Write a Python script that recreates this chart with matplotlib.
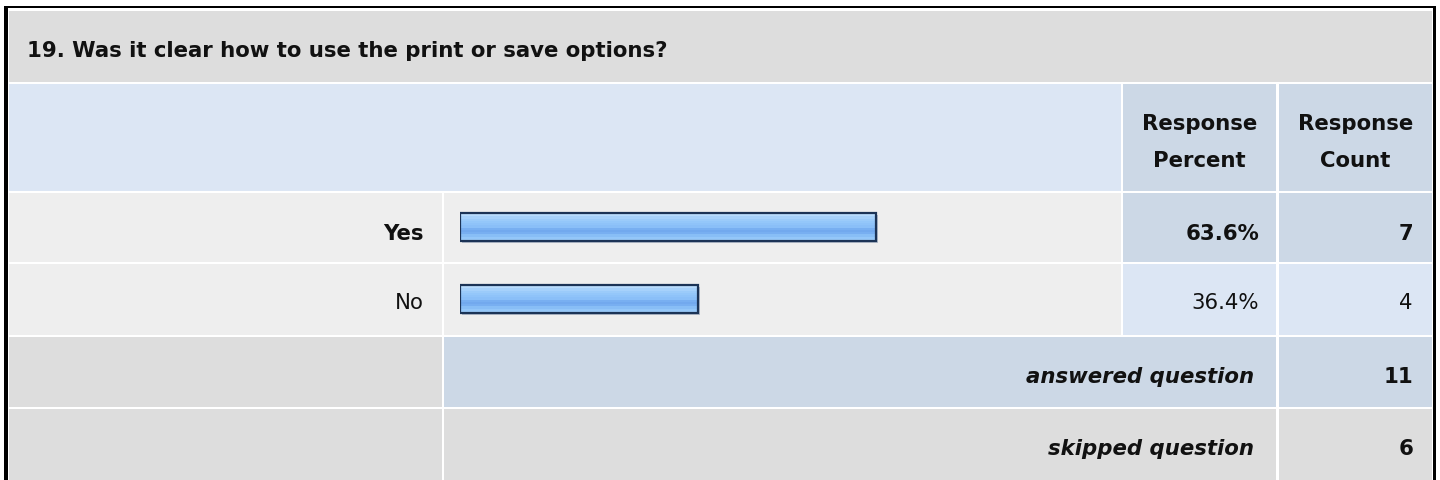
import numpy as np
import matplotlib.pyplot as plt
from matplotlib.patches import Rectangle
from matplotlib.colors import to_rgb
from matplotlib.transforms import offset_copy

question = "19. Was it clear how to use the print or save options?"
answers = ["Yes", "No"]
percents = [63.6, 36.4]
counts = [7, 4]
answered = 11
skipped = 6

plt.rcParams["font.family"] = ["DejaVu Sans"]

W, H = 1440, 481
fig = plt.figure(figsize=(W / 100, H / 100), dpi=100)
ax = fig.add_axes([0, 0, 1, 1])
ax.set_xlim(0, W)
ax.set_ylim(H, 0)
ax.axis("off")

GRAY = "#dddddd"
LIGHT = "#eeeeee"
BLUE_L = "#dce6f4"
BLUE_D = "#ccd8e6"
TXT = "#111111"
FS = 15.3


def cell(x0, x1, y0, y1, color):
    ax.add_patch(Rectangle((x0, y0), x1 - x0, y1 - y0, facecolor=color, edgecolor="none"))


# column and row edges (pixels)
c_lab = (9, 442)
c_bar = (444, 1121)
c_pct = (1123, 1276)
c_cnt = (1279, 1432)
r_title = (12, 83)
r_head = (85, 192)
r_ans = [(194, 263), (265, 336)]
ans_base = [240, 309]
r_answered = (338, 408)
r_skipped = (410, 481)

# title row
cell(c_lab[0], c_cnt[1], *r_title, GRAY)
ax.text(27, 57, question, fontsize=FS, fontweight="bold", color=TXT, va="baseline")

# header row
cell(c_lab[0], c_bar[1], *r_head, BLUE_L)
cell(*c_pct, *r_head, BLUE_D)
cell(*c_cnt, *r_head, BLUE_D)
for cx, word in [((c_pct[0] + c_pct[1]) / 2, "Percent"), ((c_cnt[0] + c_cnt[1]) / 2, "Count")]:
    ax.text(cx, 130, "Response", fontsize=FS, fontweight="bold", color=TXT, ha="center", va="baseline")
    ax.text(cx, 167, word, fontsize=FS, fontweight="bold", color=TXT, ha="center", va="baseline")

# answer rows
top_idx = int(np.argmax(counts))
for i, (lab, pct, cnt) in enumerate(zip(answers, percents, counts)):
    y0, y1 = r_ans[i]
    bold = "bold" if i == top_idx else "normal"
    side = BLUE_D if i == top_idx else BLUE_L
    cell(*c_lab, y0, y1, LIGHT)
    cell(*c_bar, y0, y1, LIGHT)
    cell(*c_pct, y0, y1, side)
    cell(*c_cnt, y0, y1, side)
    base = ans_base[i]
    ax.text(424, base, lab, fontsize=FS, fontweight=bold, color=TXT, ha="right", va="baseline")
    ax.text(1259, base, f"{pct:.1f}%", fontsize=FS, fontweight=bold, color=TXT, ha="right", va="baseline")
    ax.text(1413, base, str(cnt), fontsize=FS, fontweight=bold, color=TXT, ha="right", va="baseline")

# answered / skipped rows
cell(*c_lab, *r_answered, GRAY)
cell(c_bar[0], c_pct[1], *r_answered, BLUE_D)
cell(*c_cnt, *r_answered, BLUE_D)
cell(*c_lab, *r_skipped, GRAY)
cell(c_bar[0], c_pct[1], *r_skipped, GRAY)
cell(*c_cnt, *r_skipped, GRAY)
for base, lab, val in [(383, "answered question", answered), (455, "skipped question", skipped)]:
    ax.text(1254, base, lab, fontsize=FS, fontweight="bold", fontstyle="italic", color=TXT,
            ha="right", va="baseline")
    ax.text(1413, base, str(val), fontsize=FS, fontweight="bold", color=TXT, ha="right", va="baseline")

# outer frame
ax.add_patch(Rectangle((4, 7), 4, H - 7, facecolor="black", edgecolor="none"))
ax.add_patch(Rectangle((4, 7), 1432, 2, facecolor="black", edgecolor="none"))
ax.add_patch(Rectangle((1433, 7), 3, H - 7, facecolor="black", edgecolor="none"))

# bars
bx0, bx1 = 460, 1114
by0, by1 = 192, 336
bax = fig.add_axes([bx0 / W, 1 - by1 / H, (bx1 - bx0) / W, (by1 - by0) / H])
bax.axis("off")

stripes = ["#cfe6fd", "#b8dbfc", "#a6d1fb", "#9bcbfa", "#94c7fa", "#8fc3f9", "#8abff8",
           "#78aff1", "#72a9ee", "#78aff1", "#88bef6", "#94c7f9", "#9ccbfa"]
grad = np.array([to_rgb(c) for c in stripes])[:, None, :]

ypos = range(len(answers))
shadow_tr = offset_copy(bax.transData, fig=fig, x=2, y=-2, units="dots")
bax.barh(ypos, percents, height=0.39, color="#9aa8ba", alpha=0.7, transform=shadow_tr, zorder=1)
bars = bax.barh(ypos, percents, height=0.39, color="none",
                edgecolor="#1b3356", linewidth=1.6, zorder=3)
for r in bars:
    x0, y0, w, h = r.get_x(), r.get_y(), r.get_width(), r.get_height()
    bax.imshow(grad, extent=(x0, x0 + w, y0 + h, y0), origin="upper", aspect="auto",
               interpolation="nearest", zorder=2)
bax.set_xlim(0, 100)
bax.set_ylim(1.5, -0.5)

fig.savefig("out.png", dpi=100)
